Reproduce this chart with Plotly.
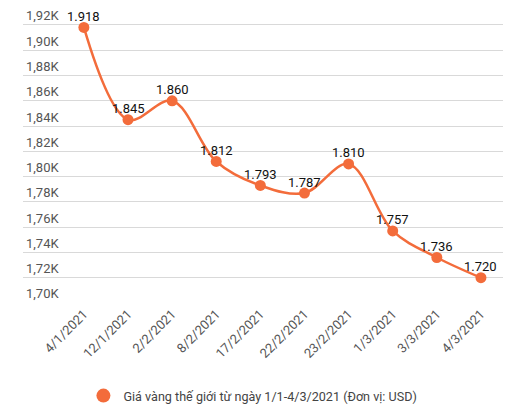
import plotly.graph_objects as go

# Giá vàng thế giới 1/1 - 4/3/2021
ngay = ["4/1/2021", "12/1/2021", "2/2/2021", "8/2/2021", "17/2/2021",
        "22/2/2021", "23/2/2021", "1/3/2021", "3/3/2021", "4/3/2021"]
gia = [1918, 1845, 1860, 1812, 1793, 1787, 1810, 1757, 1736, 1720]
nhan = ["1.918", "1.845", "1.860", "1.812", "1.793",
        "1.787", "1.810", "1.757", "1.736", "1.720"]

tick_vals = [1700, 1720, 1740, 1760, 1780, 1800, 1820, 1840, 1860, 1880, 1900, 1920]
tick_text = ["1,70K", "1,72K", "1,74K", "1,76K", "1,78K", "1,80K", "1,82K",
             "1,84K", "1,86K", "1,88K", "1,90K", "1,92K"]

ten = "Giá vàng thế giới từ ngày 1/1-4/3/2021 (Đơn vị: USD)"
mau = "#f36c3b"

fig = go.Figure()
fig.add_trace(go.Scatter(
    x=ngay, y=gia,
    mode="lines+markers",
    line=dict(color=mau, width=2.5, shape="spline", smoothing=1),
    marker=dict(size=11, color=mau),
    cliponaxis=False,
    showlegend=False,
))
# chỉ để hiện chú thích dạng chấm tròn
fig.add_trace(go.Scatter(
    x=[None], y=[None], mode="markers",
    marker=dict(size=14, color=mau),
    name=ten,
))

# nhãn giá trị ngay trên mỗi điểm
for d, g, t in zip(ngay, gia, nhan):
    fig.add_annotation(x=d, y=g, text=t, showarrow=False, yshift=11,
                       yanchor="middle", font=dict(size=13, color="#111"))

# trang html có lề 8px nên figure nhỏ hơn cửa sổ 8px
fig.update_layout(
    width=524, height=409,
    margin=dict(l=15, r=29, t=0, b=114, autoexpand=False),
    plot_bgcolor="white", paper_bgcolor="white",
    font=dict(family="Roboto", size=12, color="#555"),
    legend=dict(orientation="h", x=0.479, xanchor="center", y=-0.315, yanchor="middle",
                font=dict(size=12.6, color="#444")),
)
fig.update_xaxes(type="category", range=[-1.38, 9.5], tickangle=-45,
                 showgrid=False, showline=False, ticks="", automargin=False,
                 tickfont=dict(size=13, color="#555"))
fig.update_yaxes(range=[1700, 1933.4], tickvals=tick_vals, ticktext=tick_text,
                 ticklabelposition="inside top", showgrid=True, gridcolor="#d9d9d9",
                 gridwidth=1, zeroline=False, showline=False, automargin=False,
                 tickfont=dict(size=13, color="#555"))

fig.write_html("out.html")
